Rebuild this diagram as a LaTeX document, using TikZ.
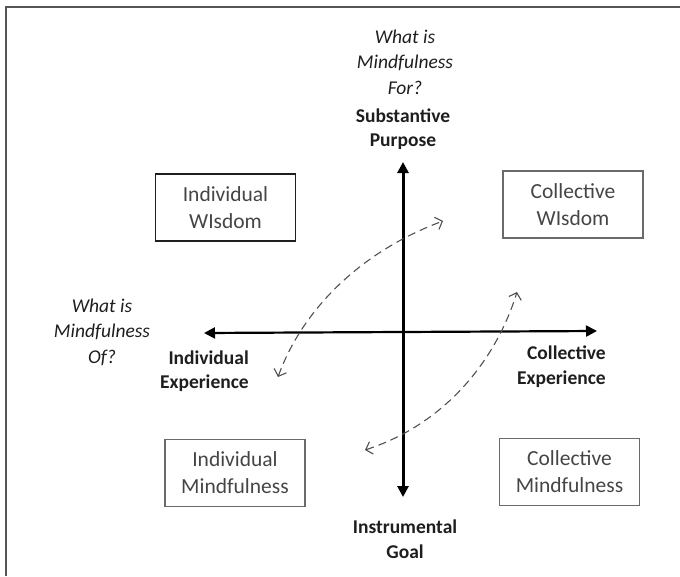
\documentclass[tikz,border=0pt]{standalone}
\usepackage{fontspec}
\setmainfont{Carlito}
\usetikzlibrary{arrows.meta,positioning}
\definecolor{ink}{HTML}{1E1E1E}
\definecolor{boxtext}{HTML}{454545}
\definecolor{boxedge}{HTML}{6A6A6A}
\definecolor{flowgray}{HTML}{505050}
\definecolor{frameline}{HTML}{555555}

\begin{document}
\begin{tikzpicture}[
  x=1pt,y=-1pt,
  quad/.style={draw=boxedge,line width=1.3pt,text=boxtext,align=center,inner sep=0pt,
    font=\fontsize{21.5}{27}\selectfont,minimum width=140pt,minimum height=67pt},
  axislabel/.style={text=ink,align=center,inner sep=0pt,font=\bfseries\fontsize{19.5}{24.5}\selectfont},
  question/.style={text=ink,align=center,inner sep=0pt,font=\itshape\fontsize{19.5}{25.5}\selectfont},
  axis/.style={draw=black,{Triangle[length=11pt,width=11pt]}-{Triangle[length=11pt,width=11pt]}},
  flow/.style={draw=flowgray,line width=1.1pt,dash pattern=on 8pt off 5pt,
    {Straight Barb[length=6pt,width=13pt]}-{Straight Barb[length=6pt,width=13pt]}}
]
\useasboundingbox (0,0) rectangle (680,576);
\draw[frameline,line width=1.5pt] (6,576) |- (680,7);

% quadrants
\node[quad,draw=ink,line width=1.7pt] (indwis) at (225.5,207.5) {Individual\\WIsdom};
\node[quad] (colwis) at (573,204.5) {Collective\\WIsdom};
\node[quad] (indmind) at (235,473) {Individual\\Mindfulness};
\node[quad] (colmind) at (569.5,472) {Collective\\Mindfulness};

% axes
\coordinate (purpose) at (403,162);
\coordinate (goal) at (403,497);
\coordinate (indexp) at (204,333);
\coordinate (colexp) at (597,331);
\draw[axis,line width=3pt] (goal) -- (purpose);
\draw[axis,line width=2.2pt] (indexp) -- (colexp);

\node[axislabel] (subst) at (403,129) {Substantive\\Purpose};
\node[axislabel] (instr) at (405,539) {Instrumental\\Goal};
\node[axislabel,align=right,anchor=east] (indlab) at (249,371) {Individual\\Experience};
\node[axislabel,align=right,anchor=east] (collab) at (606,366.5) {Collective\\Experience};

\node[question] (forq) at (405,62) {What is\\Mindfulness\\For?};
\node[question] (ofq) at (102,332) {What is\\Mindfulness\\Of?};

% movement between quadrants
\coordinate (w1) at (278,377);
\coordinate (w2) at (443,221);
\coordinate (m1) at (365,450);
\coordinate (m2) at (517,292);
\draw[flow] (w1) .. controls (301,313) and (357,253) .. (w2);
\draw[flow] (m1) .. controls (448,423) and (497,357) .. (m2);
\end{tikzpicture}
\end{document}
